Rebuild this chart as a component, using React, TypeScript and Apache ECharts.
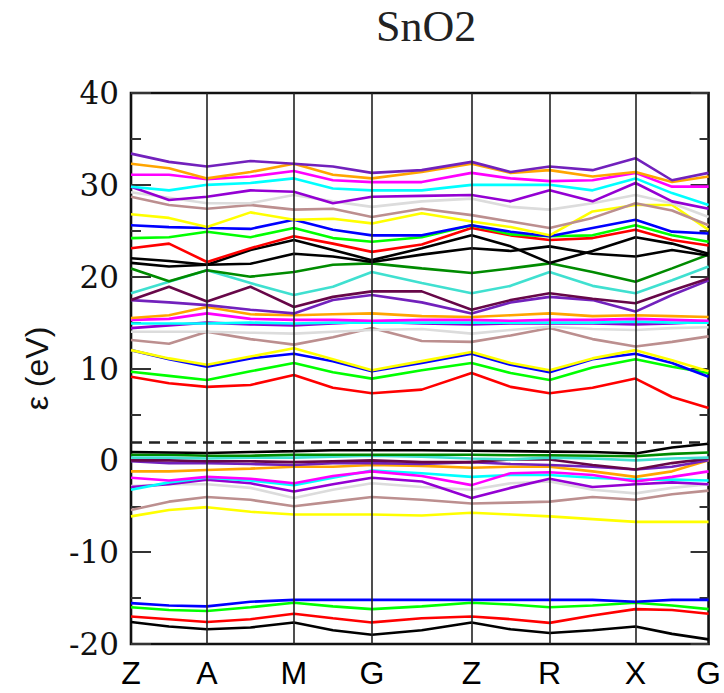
import React, { useEffect, useRef } from "react";
import * as echarts from "echarts";

// k-path: distance along the path (arbitrary units) and high-symmetry labels
const kPoints = [0, 77, 165, 244, 345, 424, 511, 585];
const kLabels = ["Z", "A", "M", "G", "Z", "R", "X", "G"];
// sample positions along the path (k-points plus segment midpoints)
const kSamples = [0, 38.5, 77, 121, 165, 204.5, 244, 294.5, 345, 384.5, 424, 467.5, 511, 548, 585];

const fermiLevel = 2.0;

// energies (eV) at each sample position
// semicore bands
const band01 = [-17.6, -18.1, -18.4, -18.2, -17.65, -18.5, -19.0, -18.5, -17.65, -18.4, -18.8, -18.5, -18.1, -18.9, -19.5];
const band02 = [-17.0, -17.3, -17.6, -17.3, -16.7, -17.2, -17.65, -17.2, -17.0, -17.3, -17.7, -16.9, -16.2, -16.3, -16.7];
const band03 = [-16.0, -16.3, -16.4, -16.0, -15.5, -15.9, -16.2, -15.9, -15.5, -15.7, -16.0, -15.8, -15.5, -15.8, -16.2];
const band04 = [-15.55, -15.8, -15.9, -15.4, -15.2, -15.2, -15.2, -15.2, -15.2, -15.2, -15.2, -15.2, -15.4, -15.2, -15.2];
// valence bands
const band05 = [-6.1, -5.4, -5.1, -5.6, -5.9, -5.9, -5.9, -6.0, -5.7, -5.9, -6.1, -6.4, -6.7, -6.7, -6.7];
const band06 = [-5.4, -4.5, -4.0, -4.3, -5.0, -4.5, -4.0, -4.3, -4.7, -4.6, -4.5, -4.0, -4.3, -3.7, -3.3];
const band07 = [-2.8, -2.6, -2.6, -3.0, -4.1, -3.2, -2.5, -2.9, -3.2, -2.5, -2.3, -3.2, -3.6, -3.0, -2.6];
const band08 = [-2.9, -2.6, -2.1, -2.5, -3.4, -2.6, -1.9, -2.3, -4.1, -3.0, -2.0, -2.9, -2.6, -2.4, -2.6];
const band09 = [-3.2, -2.4, -1.9, -2.2, -2.7, -1.9, -1.1, -1.4, -1.8, -1.6, -1.6, -1.9, -2.1, -2.1, -2.2];
const band10 = [-1.9, -2.2, -1.8, -2.0, -2.5, -1.7, -1.2, -1.7, -2.7, -1.4, -1.3, -1.6, -2.3, -1.8, -1.2];
const band11 = [-1.2, -1.2, -1.05, -0.9, -0.7, -0.7, -0.5, -0.6, -0.8, -0.7, -0.7, -1.2, -1.8, -1.2, 0.0];
const band12 = [-0.1, -0.3, -0.3, -0.4, -0.5, -0.3, -0.3, -0.4, -0.2, -0.4, -0.5, -0.7, -1.0, -0.7, 0.0];
const band13 = [0.0, 0.0, -0.1, -0.1, -0.2, -0.1, 0.0, -0.2, -0.2, 0.1, 0.1, -0.5, -1.0, -0.3, 0.2];
const band14 = [0.3, 0.3, 0.2, 0.3, 0.3, 0.4, 0.5, 0.4, 0.2, 0.1, 0.3, 0.2, 0.0, 0.2, 0.3];
const band15 = [0.6, 0.6, 0.5, 0.5, 0.6, 0.6, 0.6, 0.6, 0.6, 0.55, 0.55, 0.5, 0.45, 0.7, 0.85];
const band16 = [0.9, 0.85, 0.8, 0.9, 1.0, 1.1, 1.1, 1.1, 1.05, 1.0, 0.95, 0.9, 0.75, 1.4, 1.8];
// conduction bands
const band17 = [9.1, 8.4, 8.0, 8.2, 9.3, 7.9, 7.3, 7.7, 9.5, 8.0, 7.3, 7.9, 8.9, 6.9, 5.7];
const band18 = [9.65, 9.2, 8.75, 9.7, 10.6, 9.6, 8.9, 9.8, 10.6, 9.5, 8.75, 10.1, 11.0, 10.2, 9.5];
const band19 = [12.0, 11.0, 10.2, 11.1, 11.6, 10.8, 9.7, 10.6, 11.6, 10.4, 9.6, 11.0, 11.6, 10.6, 9.1];
const band20 = [12.0, 11.1, 10.4, 11.3, 12.2, 11.0, 9.8, 10.8, 11.8, 10.6, 9.8, 11.1, 12.0, 10.9, 9.7];
const band21 = [13.1, 12.7, 14.0, 13.2, 12.6, 13.4, 14.4, 13.0, 12.9, 13.6, 14.4, 13.2, 12.4, 12.9, 13.5];
const band22 = [14.0, 14.0, 14.0, 13.9, 13.8, 14.0, 14.2, 14.3, 13.8, 14.2, 14.55, 14.3, 14.2, 14.4, 14.5];
const band23 = [14.4, 14.7, 15.0, 14.8, 14.7, 14.9, 15.1, 14.9, 14.8, 14.9, 14.9, 14.9, 14.8, 14.9, 15.1];
const band24 = [14.9, 14.9, 14.9, 15.0, 14.9, 15.0, 15.0, 15.0, 15.0, 15.0, 15.0, 15.0, 15.1, 15.0, 15.0];
const band25 = [15.3, 15.4, 16.0, 15.4, 15.3, 15.3, 15.2, 15.3, 15.3, 15.2, 15.3, 15.3, 15.4, 15.3, 15.2];
const band26 = [15.5, 15.8, 16.7, 15.9, 15.8, 15.9, 16.0, 15.7, 15.6, 15.8, 16.0, 15.7, 15.8, 15.7, 15.6];
const band27 = [17.45, 17.2, 16.9, 16.4, 16.0, 17.45, 18.0, 17.2, 16.0, 17.2, 17.8, 17.45, 16.2, 18.0, 19.6];
const band28 = [17.45, 18.9, 17.3, 18.9, 16.7, 17.8, 18.4, 18.4, 16.4, 17.45, 18.2, 17.6, 17.1, 18.5, 19.8];
const band29 = [18.2, 19.45, 20.7, 19.3, 18.0, 18.9, 20.5, 19.3, 18.2, 19.0, 20.5, 19.0, 18.2, 19.6, 21.1];
const band30 = [20.9, 19.5, 20.7, 20.0, 20.5, 21.3, 21.45, 20.9, 20.4, 20.9, 21.45, 20.5, 19.45, 20.9, 22.4];
const band31 = [21.5, 21.1, 21.3, 21.4, 22.5, 22.2, 21.6, 22.4, 23.1, 22.8, 23.3, 22.5, 22.2, 22.9, 22.3];
const band32 = [22.0, 21.7, 21.3, 22.9, 24.0, 22.9, 21.8, 23.1, 24.5, 23.3, 21.5, 22.8, 24.3, 23.6, 22.5];
const band33 = [23.1, 23.6, 21.6, 23.1, 24.4, 23.6, 22.7, 23.5, 25.3, 24.5, 24.0, 24.2, 25.1, 24.0, 23.4];
const band34 = [24.2, 24.3, 24.9, 24.3, 25.3, 24.2, 23.8, 24.3, 25.6, 24.6, 24.4, 24.5, 25.6, 24.5, 23.8];
const band35 = [25.6, 25.4, 25.3, 25.2, 26.2, 25.1, 24.5, 24.5, 25.6, 24.9, 24.4, 25.3, 26.2, 24.9, 24.7];
const band36 = [26.8, 26.4, 25.4, 27.0, 26.2, 26.3, 25.8, 26.9, 26.0, 25.4, 24.5, 27.1, 27.8, 27.8, 25.1];
const band37 = [28.7, 27.8, 27.4, 27.8, 27.3, 27.4, 26.5, 27.4, 26.7, 26.0, 25.3, 26.4, 28.0, 27.2, 25.6];
const band38 = [29.2, 28.6, 28.0, 28.0, 28.9, 28.2, 27.6, 28.2, 28.5, 27.6, 27.3, 28.0, 28.9, 28.0, 26.5];
const band39 = [29.8, 28.35, 28.7, 29.4, 29.25, 28.0, 28.7, 28.8, 28.9, 28.2, 29.4, 28.2, 30.2, 28.2, 27.4];
const band40 = [29.8, 29.4, 30.0, 30.2, 30.7, 29.6, 29.4, 29.4, 30.0, 30.0, 30.0, 29.4, 30.7, 29.1, 27.8];
const band41 = [31.1, 31.1, 30.6, 30.9, 31.5, 30.5, 30.3, 30.3, 31.3, 30.7, 30.4, 30.5, 31.3, 29.8, 29.8];
const band42 = [32.3, 31.8, 30.7, 31.4, 32.3, 31.1, 30.7, 31.4, 32.3, 31.3, 31.6, 30.9, 31.4, 30.3, 30.9];
const band43 = [33.4, 32.5, 32.0, 32.6, 32.3, 32.0, 31.3, 31.6, 32.5, 31.4, 32.0, 31.6, 32.9, 30.5, 31.3];

const bands = [
  band01, band02, band03, band04, band05, band06, band07, band08, band09, band10, band11,
  band12, band13, band14, band15, band16, band17, band18, band19, band20, band21, band22,
  band23, band24, band25, band26, band27, band28, band29, band30, band31, band32, band33,
  band34, band35, band36, band37, band38, band39, band40, band41, band42, band43,
];

// xmgrace-style colour cycle
const palette = [
  "#000000", "#ff0000", "#00ff00", "#0000ff", "#ffff00", "#bc8f8f", "#dcdcdc", "#9400d3",
  "#00ffff", "#ff00ff", "#ffa500", "#7221bc", "#670748", "#40e0d0", "#008b00",
];
const bandColors = [
  ...palette, // 1-15
  "#000000", // 16
  "#ff0000", "#00ff00", "#0000ff", "#ffff00", "#bc8f8f", "#dcdcdc", "#9400d3", "#00ffff",
  "#ff00ff", "#ffa500", "#7221bc", "#670748", "#40e0d0", "#008b00", "#000000", "#000000",
  "#ff0000", "#00ff00", "#0000ff", "#ffff00", "#bc8f8f", "#dcdcdc", "#9400d3", "#00ffff",
  "#ff00ff", "#ffa500", "#7221bc",
];

export default function App() {
  const ref = useRef<HTMLDivElement>(null);

  useEffect(() => {
    if (!ref.current) return;
    const chart = echarts.init(ref.current, undefined, { renderer: "svg" });

    const bandSeries = bands.map((vals, i) => ({
      type: "line",
      name: `band ${i + 1}`,
      data: kSamples.map((k, j) => [k, vals[j]]),
      showSymbol: false,
      symbol: "none",
      silent: true,
      z: 3,
      lineStyle: { color: bandColors[i], width: 2.6 },
    }));

    const guideSeries = {
      type: "line",
      name: "guides",
      data: [],
      silent: true,
      z: 2,
      markLine: {
        silent: true,
        symbol: "none",
        label: { show: false },
        data: [
          ...kPoints.slice(1, -1).map((k) => ({
            xAxis: k,
            lineStyle: { color: "#222", width: 1.6, type: "solid" },
          })),
          {
            yAxis: fermiLevel,
            lineStyle: { color: "#222", width: 2.6, type: [11, 7] },
          },
        ],
      },
    };

    chart.setOption({
      animation: false,
      backgroundColor: "#ffffff",
      title: {
        text: "SnO2",
        left: 376,
        top: 4,
        padding: 0,
        textStyle: {
          fontFamily: "Liberation Serif",
          fontSize: 44,
          fontWeight: "normal",
          color: "#222",
        },
      },
      grid: {
        left: 131,
        top: 93,
        width: 585,
        height: 551,
        show: true,
        borderColor: "#111",
        borderWidth: 2.6,
        backgroundColor: "transparent",
      },
      xAxis: {
        type: "value",
        min: 0,
        max: 585,
        axisLine: { show: false },
        axisTick: { show: false },
        splitLine: { show: false },
        axisLabel: {
          customValues: kPoints,
          formatter: (v: number) => kLabels[kPoints.indexOf(v)] ?? "",
          fontFamily: "Liberation Sans",
          fontSize: 32,
          color: "#000",
          margin: 13,
          showMinLabel: true,
          showMaxLabel: true,
        },
      },
      yAxis: [
        {
          type: "value",
          min: -20,
          max: 40,
          interval: 10,
          name: "ε (eV)",
          nameLocation: "middle",
          nameRotate: 90,
          nameGap: 78,
          nameTextStyle: {
            fontFamily: "Liberation Sans",
            fontSize: 32,
            color: "#111",
          },
          axisLine: { show: false },
          axisTick: { show: true, inside: true, length: 20, lineStyle: { color: "#333", width: 2 } },
          minorTick: { show: true, splitNumber: 2, length: 10, lineStyle: { color: "#333", width: 2 } },
          splitLine: { show: false },
          axisLabel: {
            fontFamily: "DejaVu Serif",
            fontSize: 31,
            color: "#111",
            margin: 12,
          },
        },
        {
          type: "value",
          position: "right",
          min: -20,
          max: 40,
          interval: 10,
          axisLine: { show: false },
          axisTick: { show: true, inside: true, length: 18, lineStyle: { color: "#333", width: 2 } },
          minorTick: { show: true, splitNumber: 2, length: 9, lineStyle: { color: "#333", width: 2 } },
          splitLine: { show: false },
          axisLabel: { show: false },
        },
      ],
      series: [guideSeries, ...bandSeries],
    });

    return () => chart.dispose();
  }, []);

  return <div ref={ref} style={{ width: 724, height: 693, position: "absolute", left: 0, top: 0 }} />;
}
